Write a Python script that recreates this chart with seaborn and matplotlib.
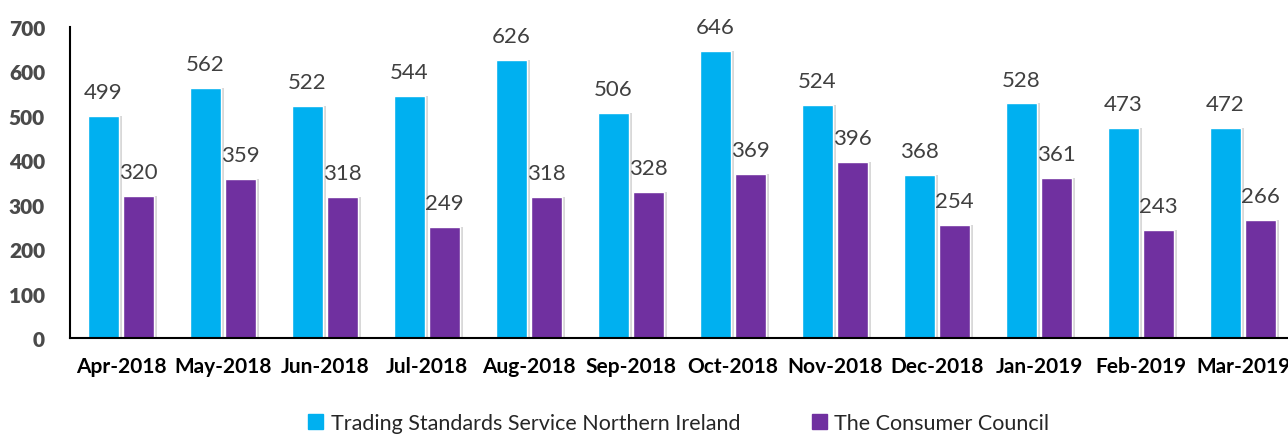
import pandas as pd
import matplotlib
matplotlib.use("Agg")
import matplotlib.pyplot as plt
import matplotlib.patheffects as pe
import seaborn as sns

months = ["Apr-2018", "May-2018", "Jun-2018", "Jul-2018", "Aug-2018", "Sep-2018",
          "Oct-2018", "Nov-2018", "Dec-2018", "Jan-2019", "Feb-2019", "Mar-2019"]
tssni = [499, 562, 522, 544, 626, 506, 646, 524, 368, 528, 473, 472]
tcc = [320, 359, 318, 249, 318, 328, 369, 396, 254, 361, 243, 266]
series = ["Trading Standards Service Northern Ireland", "The Consumer Council"]
colors = ["#00B0F0", "#7030A0"]
yticks = list(range(0, 701, 100))

df = pd.DataFrame({
    "Month": months * 2,
    "Count": tssni + tcc,
    "Service": [series[0]] * len(months) + [series[1]] * len(months),
})

sns.set_style("white")
plt.rcParams["font.family"] = ["Lato", "DejaVu Sans"]

fig = plt.figure(figsize=(12.88, 4.35), dpi=100)
ax = fig.add_axes([70 / 1288, 96 / 435, 1224 / 1288, 311 / 435])

sns.barplot(data=df, x="Month", y="Count", hue="Service", palette=colors,
            width=0.69, gap=0.1, ax=ax, legend=False, saturation=1)

shadow = [pe.SimplePatchShadow(offset=(2, 0), shadow_rgbFace="#808080", alpha=0.3), pe.Normal()]
for p in ax.patches:
    p.set_path_effects(shadow)

for c in ax.containers:
    ax.bar_label(c, padding=10, fontsize=16, color="#404040")

ax.set_ylim(0, 700)
ax.set_xlim(-0.5, len(months) - 0.5)
ax.set_xlabel("")
ax.set_ylabel("")
for s in ["top", "right"]:
    ax.spines[s].set_visible(False)
for s in ["left", "bottom"]:
    ax.spines[s].set_color("black")
    ax.spines[s].set_linewidth(1.5)

ax.set_yticks(yticks, [str(v) for v in yticks], fontweight="heavy", fontsize=15, color="#4a4a4a")
ax.tick_params(axis="y", length=0, pad=18)
ax.set_xticks(range(len(months)), months, fontweight="bold", fontsize=15, color="black")
ax.tick_params(axis="x", which="major", length=0, pad=13)
ax.set_xticks([i - 0.5 for i in range(len(months) + 1)], minor=True)
ax.tick_params(axis="x", which="minor", length=6, width=1.5, direction="out", color="black")

handles = [plt.Rectangle((0, 0), 1, 1, color=col) for col in colors]
fig.legend(handles, series, loc="center", bbox_to_anchor=(0.527, 0.025), ncol=2,
           frameon=False, fontsize=15.5, handlelength=0.7, handleheight=0.7,
           handletextpad=0.35, columnspacing=3.3)

fig.savefig("out.png", dpi=100)
